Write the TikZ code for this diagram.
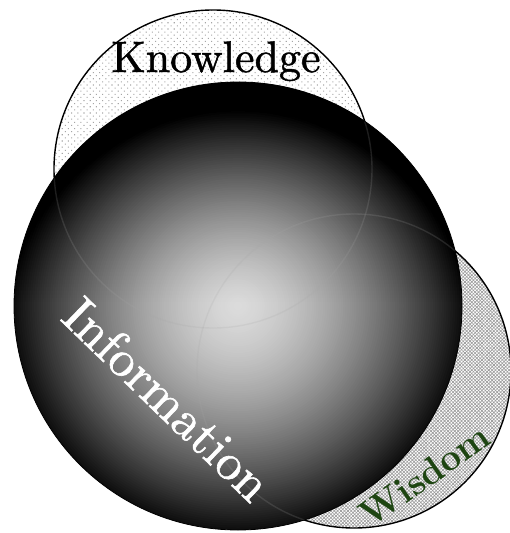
\documentclass[tikz,border=0pt]{standalone}
\usepackage{fontspec}
\usetikzlibrary{patterns.meta}
\newfontfamily\heavyfont{lmroman10-regular.otf}[FakeBold=1.2]
\definecolor{wisgreen}{HTML}{1E4512}
\tikzset{
  outline/.style={draw=black, line width=1.4pt},
  ghost/.style={draw=gray!70, opacity=0.18, line width=1.4pt},
  label/.style={inner sep=0pt},
}
\begin{document}
\begin{tikzpicture}[x=1pt,y=-1pt]
\useasboundingbox (0,0) rectangle (510,533);
\coordinate (kc) at (213,169);
\coordinate (wc) at (354,371);
\coordinate (ic) at (238,306);
% Knowledge
\fill[white] (kc) circle[radius=159];
\fill[pattern={Dots[distance=4.4pt,radius=0.75pt,angle=45]}, pattern color=gray!70] (kc) circle[radius=159];
\draw[outline] (kc) circle[radius=159];
% Wisdom
\fill[white] (wc) circle[radius=157];
\fill[pattern={Lines[angle=45,distance=2.4pt,line width=0.6pt]}, pattern color=gray!80] (wc) circle[radius=157];
\fill[pattern={Lines[angle=-45,distance=2.4pt,line width=0.6pt]}, pattern color=gray!80] (wc) circle[radius=157];
\draw[outline] (wc) circle[radius=157];
% Information sphere: concentric rings
\foreach \i in {0,...,99}{
  \pgfmathsetmacro\f{1-\i/100}
  \pgfmathsetmacro\g{max(0.04,0.86-0.8*pow(\f,1.5))}
  \definecolor{ringc}{gray}{\g}
  \fill[ringc] (ic) circle[radius=224*\f];
}
\begin{scope}
  \clip (ic) circle[radius=224];
  \foreach \k in {1,...,60}{
    \fill[black, opacity=0.0047] (0,80) rectangle (510,80+3.7*\k);
  }
  \draw[ghost] (kc) circle[radius=159];
  \draw[ghost] (wc) circle[radius=157];
\end{scope}
\draw[black, line width=0.8pt] (ic) circle[radius=224];
% Labels
\node[label, anchor=base, font=\heavyfont\fontsize{44}{44}\selectfont] (kn) at (216,72) {Knowledge};
\node[label, anchor=base, text=white, rotate=-44, font=\heavyfont\fontsize{51.5}{51.5}\selectfont] (in) at (155,412) {Information};
\node[label, anchor=base, text=wisgreen, rotate=35, font=\fontsize{37}{37}\selectfont\bfseries] (wi) at (432,486) {Wisdom};
\end{tikzpicture}
\end{document}
